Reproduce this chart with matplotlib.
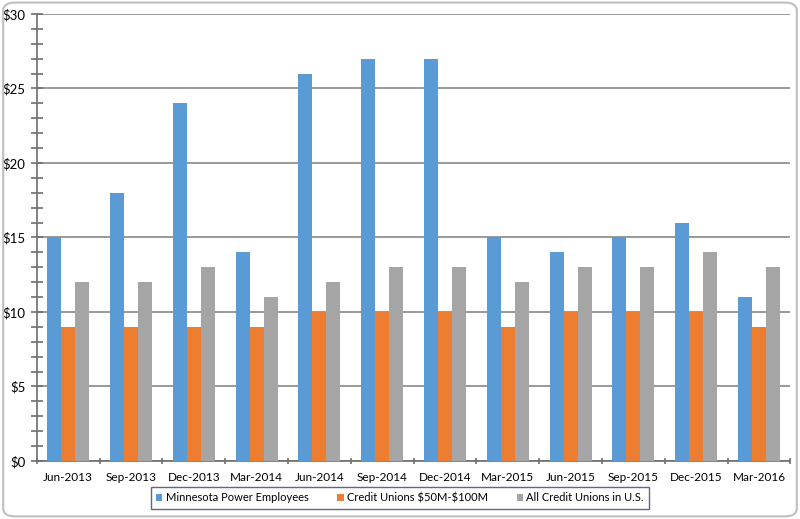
import numpy as np
import matplotlib
matplotlib.use("Agg")
import matplotlib.pyplot as plt
from matplotlib.patches import FancyBboxPatch
from matplotlib.ticker import MultipleLocator, FuncFormatter

# Daten
quartale = ["Jun-2013", "Sep-2013", "Dec-2013", "Mar-2014", "Jun-2014", "Sep-2014",
            "Dec-2014", "Mar-2015", "Jun-2015", "Sep-2015", "Dec-2015", "Mar-2016"]
minnesota = [15, 18, 24, 14, 26, 27, 27, 15, 14, 15, 16, 11]
cu_50_100 = [9, 9, 9, 9, 10, 10, 10, 9, 10, 10, 10, 9]
cu_alle = [12, 12, 13, 11, 12, 13, 13, 12, 13, 13, 14, 13]

namen = ["Minnesota Power Employees", r"Credit Unions \$50M-\$100M", "All Credit Unions in U.S."]
farben = ["#5B9BD5", "#ED7D31", "#A5A5A5"]

plt.rcParams['font.family'] = ['Lato', 'DejaVu Sans']

fig = plt.figure(figsize=(8, 5.19), dpi=100)
ax = fig.add_axes([0.046, 0.112, 0.942, 0.861])

x = np.arange(len(quartale))
b = 0.223
for i, (werte, name, farbe) in enumerate(zip([minnesota, cu_50_100, cu_alle], namen, farben)):
    ax.bar(x + (i - 1) * b, werte, width=b, color=farbe, label=name, zorder=3)

ax.set_xlim(-0.5, len(quartale) - 0.5)
ax.set_ylim(0, 30)
ax.yaxis.set_major_locator(MultipleLocator(5))
ax.yaxis.set_minor_locator(MultipleLocator(1))
ax.yaxis.set_major_formatter(FuncFormatter(lambda v, p: f"${v:.0f}"))
ax.grid(axis="y", which="major", color="#878787", linewidth=1.2, zorder=0)

ax.set_xticks(x)
ax.set_xticklabels(quartale)
ax.set_xticks(np.arange(-0.5, len(quartale)), minor=True)
ax.tick_params(axis="x", which="major", length=0, pad=8, labelsize=8.5)
ax.tick_params(axis="x", which="minor", length=5, width=1.2, color="#6e6e6e", direction="inout")
ax.tick_params(axis="y", which="major", length=8, width=1.2, color="#6e6e6e", direction="inout", labelsize=9.5, pad=4)
ax.tick_params(axis="y", which="minor", length=8, width=1.2, color="#6e6e6e", direction="inout")

for s in ["top", "right"]:
    ax.spines[s].set_visible(False)
for s in ["left", "bottom"]:
    ax.spines[s].set_color("#6e6e6e")
    ax.spines[s].set_linewidth(1.2)

leg = fig.legend(loc="center", bbox_to_anchor=(0.5, 0.0405), ncol=3, fontsize=8,
                 frameon=True, fancybox=False, edgecolor="#3c3c6e", handlelength=0.55,
                 handleheight=0.55, columnspacing=2.6, handletextpad=0.3,
                 borderpad=0.5, borderaxespad=0)
leg.get_frame().set_linewidth(1.0)

rahmen = FancyBboxPatch((0.004, 0.005), 0.992, 0.99, boxstyle="round,pad=0,rounding_size=0.015",
                        transform=fig.transFigure, facecolor="none", edgecolor="#bfbfbf",
                        linewidth=1.5)
fig.patches.append(rahmen)

fig.savefig("out.png", dpi=100)
